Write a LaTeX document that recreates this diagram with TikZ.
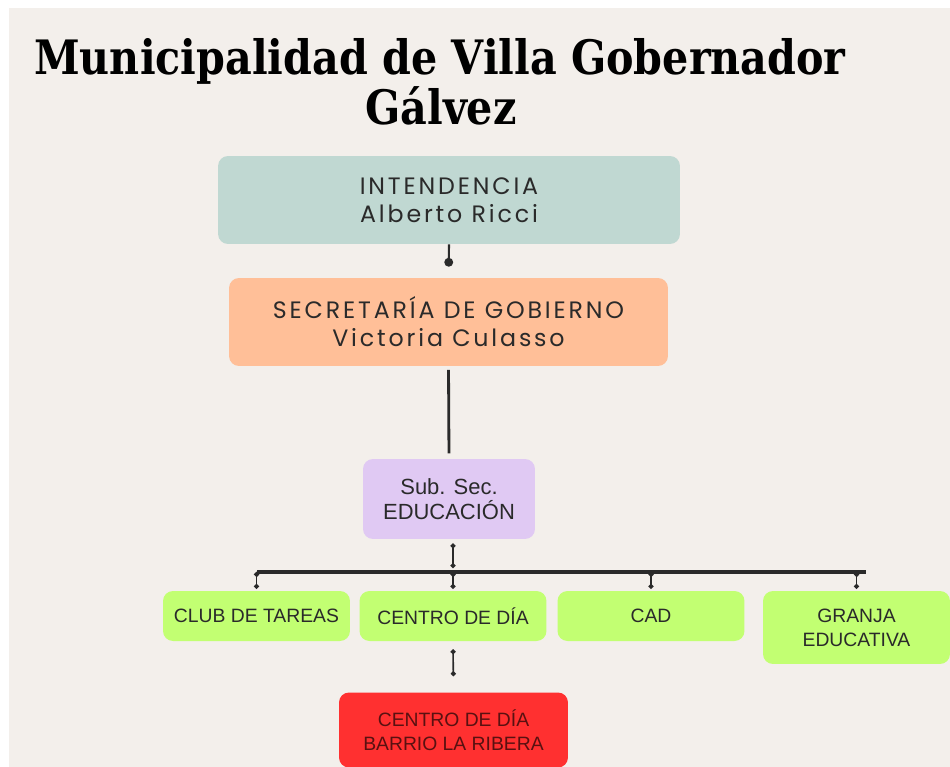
\documentclass[tikz,border=0pt]{standalone}
\usepackage{fontspec}
\usepackage{graphicx}
\setmainfont{Liberation Sans}
\newfontfamily\titulofont{DejaVu Serif}
\newfontfamily\cajafont[LetterSpace=12]{Poppins}
\usetikzlibrary{arrows.meta}

\definecolor{fondo}{HTML}{F3EFEB}
\definecolor{gris}{HTML}{C0D8D2}
\definecolor{salmon}{HTML}{FFBF98}
\definecolor{lila}{HTML}{E0C9F3}
\definecolor{lima}{HTML}{C2FF72}
\definecolor{rojo}{HTML}{FF3030}
\definecolor{tinta}{HTML}{2A2A2A}

\newcommand{\estrecho}[1]{\scalebox{0.87}[1]{#1}}
\tikzset{punto/.tip={Circle[length=2.8pt]}}

\begin{document}
\begin{tikzpicture}[x=0.02cm, y=-0.02cm,
    caja/.style={rounded corners=0.2cm, inner sep=0pt, align=center, text=tinta},
    grande/.style={caja, font=\cajafont\fontsize{13.5}{16}\selectfont},
    chica/.style={caja, fill=lima, font=\fontsize{11}{13.5}\selectfont, minimum width=3.74cm},
    titular/.style={anchor=base, inner sep=0pt, font=\titulofont\bfseries\fontsize{27}{28}\selectfont},
    linea/.style={draw=tinta, line width=1.2pt}]
    % Fondo
    \useasboundingbox (0,0) rectangle (950,767);
    \fill[white] (0,0) rectangle (950,767);
    \fill[fondo] (9,8) rectangle (950,767);

    % Titulo
    \node[titular] (titulo) at (440,75) {\estrecho{Municipalidad de Villa Gobernador}};
    \node[titular] (tituloB) at (441,125) {\estrecho{Gálvez}};

    % Cajas superiores
    \node[grande, fill=gris, minimum width=9.24cm, minimum height=1.76cm] (intendencia) at (449,200)
        {INTENDENCIA\\Alberto Ricci};
    \node[grande, fill=salmon, minimum width=8.78cm, minimum height=1.76cm] (secretaria) at (448.5,322)
        {SECRETARÍA DE GOBIERNO\\Victoria Culasso};
    \node[caja, fill=lila, font=\fontsize{12.5}{14.5}\selectfont, minimum width=3.44cm, minimum height=1.6cm] (subsec) at (449,499)
        {Sub. Sec.\\EDUCACIÓN};

    % Areas
    \node[chica, minimum height=1cm] (club) at (256.5,616) {CLUB DE TAREAS};
    \node[chica, minimum height=1cm] (centro) at (453,616) {CENTRO DE DÍA};
    \node[chica, minimum height=1cm] (cad) at (651,616) {CAD};
    \node[chica, minimum height=1.46cm] (granja) at (856.5,627.5) {GRANJA\\EDUCATIVA};
    \node[chica, fill=rojo, text=rojo!35!black, minimum width=4.58cm, minimum height=1.5cm] (ribera) at (453.5,730)
        {CENTRO DE DÍA\\BARRIO LA RIBERA};

    % Conectores
    \draw[linea, -{Circle[length=5pt]}, shorten >=11*0.02cm] (intendencia.south) -- (secretaria.north);
    \draw[linea, line width=1.6pt, shorten <=2pt, shorten >=3pt] (secretaria.south) -- (subsec.north);

    \coordinate (barraI) at (257,572);
    \coordinate (barraD) at (866,572);
    \draw[draw=tinta, line width=2.2pt] (barraI) -- (barraD);
    \draw[linea, line width=0.9pt, punto-punto] ([yshift=-4*0.02cm]subsec.south -| centro.north) -- ([yshift=4*0.02cm]centro.north |- barraI);
    \foreach \n in {club, centro, cad, granja}
        \draw[linea, line width=0.9pt, punto-punto] (\n.north |- barraI) -- ([yshift=1pt]\n.north);
    \draw[linea, line width=0.9pt, punto-punto, shorten <=8*0.02cm, shorten >=16*0.02cm] (centro.south) -- (ribera.north);
\end{tikzpicture}
\end{document}
